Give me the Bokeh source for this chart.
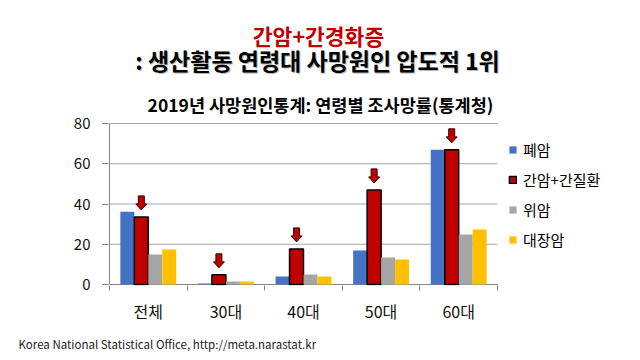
from bokeh.plotting import figure
from bokeh.models import Range1d, FixedTicker, Title, Label
from bokeh.embed import file_html
from bokeh.resources import INLINE

categories = ["전체", "30대", "40대", "50대", "60대"]
lung = [36.2, 0.5, 4.0, 16.9, 67.0]
liver = [33.6, 4.8, 17.7, 47.0, 66.9]
stomach = [14.9, 1.5, 5.0, 13.4, 24.8]
colorectal = [17.4, 1.5, 4.0, 12.4, 27.3]
series_names = ["폐암", "간암+간질환", "위암", "대장암"]
yticks = [0, 20, 40, 60, 80]

FONT = "Noto Sans CJK KR"
colors = ["#4472C4", "#C00000", "#A5A5A5", "#FFC000"]
AXC = "#868686"

# pixel sizes of one data unit (plot area 388 x 161 px for 5 categories x 80)
px_x = 1.0 / 77.6
px_y = 80.0 / 161.0
ncat = len(categories)

p = figure(width=640, height=360, output_backend="svg", toolbar_location=None,
           x_range=Range1d(-1 * px_x, 531 * px_x), y_range=Range1d(-1 * px_y, 284 * px_y),
           min_border_left=108, min_border_right=0, min_border_top=0,
           min_border_bottom=75, title=None)
p.outline_line_color = None
p.background_fill_color = "white"
p.xgrid.grid_line_color = None
p.ygrid.grid_line_color = None

# gridlines and axis lines limited to the plot area
p.segment(x0=[0] * (len(yticks) - 1), x1=[ncat] * (len(yticks) - 1),
          y0=yticks[1:], y1=yticks[1:], line_color="#A6A6A6", line_width=1)
p.segment(x0=[0, 0], x1=[0, ncat], y0=[0, 0], y1=[yticks[-1], 0],
          line_color=AXC, line_width=1)

bw = 0.18
centers = [i + 0.5 for i in range(ncat)]
all_series = [lung, liver, stomach, colorectal]
for k, (vals, name, col) in enumerate(zip(all_series, series_names, colors)):
    xs = [c + (k - 1.5) * bw for c in centers]
    if k == 1:
        p.vbar(x=xs, top=vals, width=bw, fill_color=col, line_color="black",
               line_width=1.5, legend_label=name)
    else:
        p.vbar(x=xs, top=vals, width=bw, fill_color=col, line_color=None,
               legend_label=name)

# arrows above the liver bars
axs, ays = [], []
for c, v in zip(centers, liver):
    cx = c - 0.5 * bw
    tip = v + 7 * px_y
    head = tip + 6 * px_y
    top = head + 8 * px_y
    hw = 5.5 * px_x
    sw = 3 * px_x
    axs.append([cx, cx + hw, cx + sw, cx + sw, cx - sw, cx - sw, cx - hw])
    ays.append([tip, head, head, top, top, head, head])
p.patches(axs, ays, fill_color="#C00000", line_color="#300000", line_width=1)

# axes
xa = p.xaxis[0]
xa.ticker = FixedTicker(ticks=centers, minor_ticks=list(range(ncat + 1)))
xa.major_label_overrides = {c: lab for c, lab in zip(centers, categories)}
xa.major_tick_line_color = None
xa.major_tick_in = 0
xa.major_tick_out = 0
xa.minor_tick_in = 0
xa.minor_tick_out = 5
xa.minor_tick_line_color = AXC
xa.axis_line_color = None
xa.major_label_text_font = FONT
xa.major_label_text_font_size = "16px"
xa.major_label_text_color = "#111111"
xa.major_label_standoff = 8

ya = p.yaxis[0]
ya.ticker = FixedTicker(ticks=yticks)
ya.minor_tick_line_color = None
ya.major_tick_in = 0
ya.major_tick_out = 6
ya.major_tick_line_color = AXC
ya.axis_line_color = None
ya.major_label_text_font = FONT
ya.major_label_text_font_size = "15px"
ya.major_label_text_color = "#111111"
ya.major_label_standoff = 12

# legend
lg = p.legend[0]
lg.location = (400, 35)
lg.border_line_color = None
lg.background_fill_alpha = 0
lg.padding = 0
lg.margin = 0
lg.spacing = 9
lg.glyph_width = 9
lg.glyph_height = 9
lg.label_height = 20
lg.label_standoff = 6
lg.label_text_font = FONT
lg.label_text_font_size = "15px"
lg.label_text_color = "black"

# titles
def lab(x, y, text, size, color, bold=True):
    p.add_layout(Label(x=x, y=y, x_units="screen", y_units="screen", text=text,
                       text_align="center", text_baseline="middle", text_font=FONT,
                       text_font_size=size, text_font_style="bold" if bold else "normal",
                       text_color=color))

lab(210, 250, "간암+간경화증", "21.5px", "#C00000")
lab(210, 225, ": 생산활동 연령대 사망원인 압도적 1위", "23px", "#B8B8B8")
lab(209, 226, ": 생산활동 연령대 사망원인 압도적 1위", "23px", "black")
lab(212, 181, "2019년 사망원인통계: 연령별 조사망률(통계청)", "17.5px", "black")

p.add_layout(Title(text="Korea National Statistical Office, http://meta.narastat.kr",
                   align="left", offset=-90, text_font=FONT, text_font_size="11.5px",
                   text_font_style="normal", text_color="#222222", standoff=16), "below")

open("out.html", "w").write(file_html(p, INLINE))
